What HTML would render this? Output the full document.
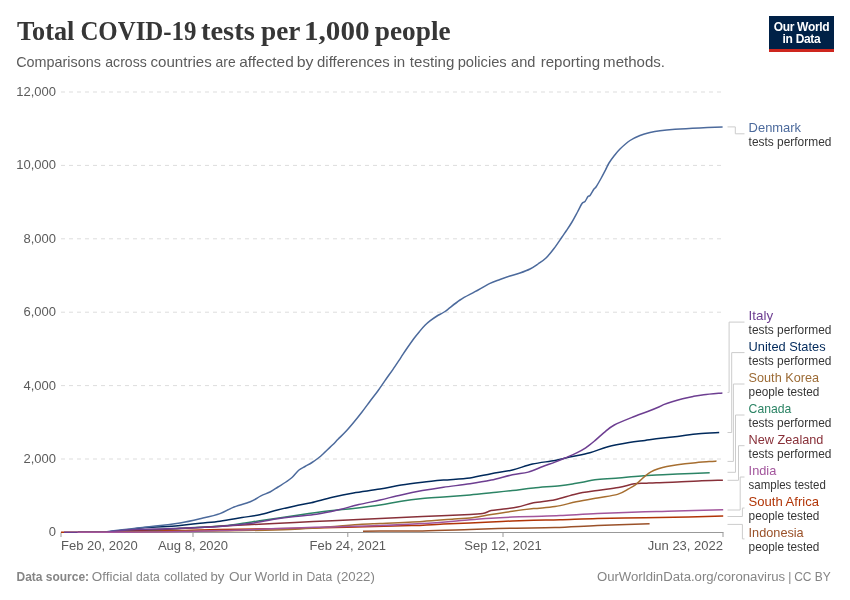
<!DOCTYPE html>
<html><head><meta charset="utf-8">
<style>
html,body{margin:0;padding:0;background:#fff;width:850px;height:600px;overflow:hidden}
svg{display:block;will-change:transform}
text{font-family:"Liberation Sans",sans-serif}
.ax{font-size:13px;fill:#5b5b5b}
.ln{font-size:13px}
.ls{font-size:12.2px;fill:#363636}
.title{font-family:"Liberation Serif",serif;font-size:27px;font-weight:bold;fill:#363636}
.sub{font-size:14.5px;fill:#5b5b5b}
.foot{font-size:12px;fill:#858585}
</style></head><body>
<svg width="850" height="600" viewBox="0 0 850 600">
<rect width="850" height="600" fill="#fff"/>
<text x="17" y="40.1" class="title" textLength="57.30" lengthAdjust="spacingAndGlyphs">Total</text>
<text x="80.4" y="40.1" class="title" textLength="116.10" lengthAdjust="spacingAndGlyphs">COVID-19</text>
<text x="200.9" y="40.1" class="title" textLength="53.90" lengthAdjust="spacingAndGlyphs">tests</text>
<text x="261" y="40.1" class="title" textLength="39.40" lengthAdjust="spacingAndGlyphs">per</text>
<text x="304" y="40.1" class="title" textLength="65.50" lengthAdjust="spacingAndGlyphs">1,000</text>
<text x="374.8" y="40.1" class="title" textLength="75.80" lengthAdjust="spacingAndGlyphs">people</text>
<text x="16.19" y="66.5" class="sub" textLength="84.69" lengthAdjust="spacingAndGlyphs">Comparisons</text>
<text x="105.27" y="66.5" class="sub" textLength="41.54" lengthAdjust="spacingAndGlyphs">across</text>
<text x="150.50" y="66.5" class="sub" textLength="61.31" lengthAdjust="spacingAndGlyphs">countries</text>
<text x="215.58" y="66.5" class="sub" textLength="20.07" lengthAdjust="spacingAndGlyphs">are</text>
<text x="239.27" y="66.5" class="sub" textLength="54.47" lengthAdjust="spacingAndGlyphs">affected</text>
<text x="296.73" y="66.5" class="sub" textLength="16.77" lengthAdjust="spacingAndGlyphs">by</text>
<text x="317.04" y="66.5" class="sub" textLength="72.77" lengthAdjust="spacingAndGlyphs">differences</text>
<text x="393.50" y="66.5" class="sub" textLength="11.77" lengthAdjust="spacingAndGlyphs">in</text>
<text x="409.89" y="66.5" class="sub" textLength="44.46" lengthAdjust="spacingAndGlyphs">testing</text>
<text x="457.65" y="66.5" class="sub" textLength="49.08" lengthAdjust="spacingAndGlyphs">policies</text>
<text x="511.12" y="66.5" class="sub" textLength="24.31" lengthAdjust="spacingAndGlyphs">and</text>
<text x="540.65" y="66.5" class="sub" textLength="59.47" lengthAdjust="spacingAndGlyphs">reporting</text>
<text x="603.11" y="66.5" class="sub" textLength="61.94" lengthAdjust="spacingAndGlyphs">methods.</text>

<g>
<rect x="769" y="16" width="65" height="36" fill="#002147"/>
<rect x="769" y="49" width="65" height="3" fill="#CE261E"/>
<text x="801.5" y="31" text-anchor="middle" font-size="12" font-weight="bold" fill="#fff" letter-spacing="-0.3">Our World</text>
<text x="801.5" y="43.2" text-anchor="middle" font-size="12" font-weight="bold" fill="#fff" letter-spacing="-0.3">in Data</text>
</g>
<line x1="61" y1="92" x2="723" y2="92" stroke="#ddd" stroke-width="1" stroke-dasharray="4,4"/>
<line x1="61" y1="165.4" x2="723" y2="165.4" stroke="#ddd" stroke-width="1" stroke-dasharray="4,4"/>
<line x1="61" y1="238.8" x2="723" y2="238.8" stroke="#ddd" stroke-width="1" stroke-dasharray="4,4"/>
<line x1="61" y1="312.2" x2="723" y2="312.2" stroke="#ddd" stroke-width="1" stroke-dasharray="4,4"/>
<line x1="61" y1="385.6" x2="723" y2="385.6" stroke="#ddd" stroke-width="1" stroke-dasharray="4,4"/>
<line x1="61" y1="459" x2="723" y2="459" stroke="#ddd" stroke-width="1" stroke-dasharray="4,4"/>

<text x="56" y="96" text-anchor="end" class="ax">12,000</text>
<text x="56" y="169.4" text-anchor="end" class="ax">10,000</text>
<text x="56" y="242.8" text-anchor="end" class="ax">8,000</text>
<text x="56" y="316.2" text-anchor="end" class="ax">6,000</text>
<text x="56" y="389.6" text-anchor="end" class="ax">4,000</text>
<text x="56" y="463" text-anchor="end" class="ax">2,000</text>
<text x="56" y="536.3" text-anchor="end" class="ax">0</text>

<line x1="61" y1="532.5" x2="723.5" y2="532.5" stroke="#999" stroke-width="1"/>
<line x1="61" y1="532.5" x2="61" y2="537" stroke="#999" stroke-width="1"/>
<text x="61" y="550" text-anchor="start" class="ax">Feb 20, 2020</text>
<line x1="193" y1="532.5" x2="193" y2="537" stroke="#999" stroke-width="1"/>
<text x="193" y="550" text-anchor="middle" class="ax">Aug 8, 2020</text>
<line x1="347.8" y1="532.5" x2="347.8" y2="537" stroke="#999" stroke-width="1"/>
<text x="347.8" y="550" text-anchor="middle" class="ax">Feb 24, 2021</text>
<line x1="503" y1="532.5" x2="503" y2="537" stroke="#999" stroke-width="1"/>
<text x="503" y="550" text-anchor="middle" class="ax">Sep 12, 2021</text>
<line x1="723" y1="532.5" x2="723" y2="537" stroke="#999" stroke-width="1"/>
<text x="723" y="550" text-anchor="end" class="ax">Jun 23, 2022</text>

<path d="M363.00,531.20 C365.83,531.18 370.10,531.15 380.00,531.10 C389.90,531.05 407.40,531.17 422.40,530.90 C437.40,530.63 455.00,529.95 470.00,529.50 C485.00,529.05 498.23,528.52 512.40,528.20 C526.57,527.88 540.83,528.03 555.00,527.60 C569.17,527.17 581.63,526.25 597.40,525.60 C613.17,524.95 640.90,524.02 649.60,523.70" fill="none" stroke="#9A5129" stroke-width="1.5" stroke-linejoin="round" stroke-linecap="butt"/>
<path d="M61.00,532.30 L104.00,532.30 C110.83,532.02 131.50,530.92 145.00,530.60 C158.50,530.28 172.50,530.60 185.00,530.40 C197.50,530.20 202.50,529.72 220.00,529.40 C237.50,529.08 258.03,529.13 290.00,528.50 C321.97,527.87 386.22,526.35 411.80,525.60 C437.38,524.85 433.80,524.45 443.50,524.00 C453.20,523.55 460.28,523.33 470.00,522.90 C479.72,522.47 491.22,521.83 501.80,521.40 C512.38,520.97 523.80,520.57 533.50,520.30 C543.20,520.03 549.35,520.12 560.00,519.80 C570.65,519.48 583.23,518.75 597.40,518.40 C611.57,518.05 629.85,517.95 645.00,517.70 C660.15,517.45 675.27,517.17 688.30,516.90 C701.33,516.63 717.38,516.23 723.20,516.10" fill="none" stroke="#B13507" stroke-width="1.5" stroke-linejoin="round" stroke-linecap="butt"/>
<path d="M78.00,532.30 L104.00,532.30 C108.33,531.85 123.17,530.42 130.00,529.60 C136.83,528.78 138.17,527.95 145.00,527.40 C151.83,526.85 165.17,526.60 171.00,526.30 C176.83,526.00 175.17,526.10 180.00,525.60 C184.83,525.10 193.33,524.03 200.00,523.30 C206.67,522.57 213.00,522.15 220.00,521.20 C227.00,520.25 235.38,518.68 242.00,517.60 C248.62,516.52 253.80,515.97 259.70,514.70 C265.60,513.43 271.52,511.47 277.40,510.00 C283.28,508.53 289.37,507.12 295.00,505.90 C300.63,504.68 304.97,504.15 311.20,502.70 C317.43,501.25 325.35,498.82 332.40,497.20 C339.45,495.58 345.57,494.35 353.50,493.00 C361.43,491.65 372.05,490.43 380.00,489.10 C387.95,487.77 394.13,486.15 401.20,485.00 C408.27,483.85 415.35,483.02 422.40,482.20 C429.45,481.38 435.57,480.82 443.50,480.10 C451.43,479.38 462.05,478.97 470.00,477.90 C477.95,476.83 484.13,475.02 491.20,473.70 C498.27,472.38 505.52,471.62 512.40,470.00 C519.28,468.38 525.40,465.58 532.50,464.00 C539.60,462.42 548.60,461.70 555.00,460.50 C561.40,459.30 565.08,458.10 570.90,456.80 C576.72,455.50 583.73,454.38 589.90,452.70 C596.07,451.02 601.37,448.40 607.90,446.70 C614.43,445.00 622.92,443.55 629.10,442.50 C635.28,441.45 640.48,441.02 645.00,440.40 C649.52,439.78 650.80,439.47 656.20,438.80 C661.60,438.13 670.35,437.25 677.40,436.40 C684.45,435.55 691.53,434.33 698.50,433.70 C705.47,433.07 715.75,432.78 719.20,432.60" fill="none" stroke="#00295B" stroke-width="1.5" stroke-linejoin="round" stroke-linecap="butt"/>
<path d="M78.00,532.30 L104.00,532.30 C105.30,532.10 107.47,531.67 111.80,531.10 C116.13,530.53 124.47,529.55 130.00,528.90 C135.53,528.25 139.50,527.82 145.00,527.20 C150.50,526.58 157.17,525.88 163.00,525.20 C168.83,524.52 173.83,524.17 180.00,523.10 C186.17,522.03 193.33,520.38 200.00,518.80 C206.67,517.22 214.57,515.47 220.00,513.60 C225.43,511.73 227.55,509.57 232.60,507.60 C237.65,505.63 245.58,503.75 250.30,501.80 C255.02,499.85 257.62,497.53 260.90,495.90 C264.18,494.27 267.15,493.48 270.00,492.00 C272.85,490.52 275.33,488.67 278.00,487.00 C280.67,485.33 283.67,483.58 286.00,482.00 C288.33,480.42 289.83,479.50 292.00,477.50 C294.17,475.50 296.83,471.83 299.00,470.00 C301.17,468.17 302.83,467.75 305.00,466.50 C307.17,465.25 309.67,464.00 312.00,462.50 C314.33,461.00 317.00,459.08 319.00,457.50 C321.00,455.92 321.72,455.12 324.00,453.00 C326.28,450.88 330.37,447.08 332.70,444.80 C335.03,442.52 335.78,441.55 338.00,439.30 C340.22,437.05 343.33,434.18 346.00,431.30 C348.67,428.42 351.33,425.22 354.00,422.00 C356.67,418.78 359.33,415.45 362.00,412.00 C364.67,408.55 367.33,404.85 370.00,401.30 C372.67,397.75 375.28,394.47 378.00,390.70 C380.72,386.93 383.80,382.27 386.30,378.70 C388.80,375.13 390.55,372.87 393.00,369.30 C395.45,365.73 398.55,360.97 401.00,357.30 C403.45,353.63 405.48,350.52 407.70,347.30 C409.92,344.08 412.30,340.67 414.30,338.00 C416.30,335.33 417.92,333.42 419.70,331.30 C421.48,329.18 423.23,327.07 425.00,325.30 C426.77,323.53 428.30,322.25 430.30,320.70 C432.30,319.15 434.55,317.53 437.00,316.00 C439.45,314.47 441.17,314.17 445.00,311.50 C448.83,308.83 455.00,303.30 460.00,300.00 C465.00,296.70 470.00,294.48 475.00,291.70 C480.00,288.92 485.83,285.33 490.00,283.30 C494.17,281.27 496.67,280.72 500.00,279.50 C503.33,278.28 506.67,277.08 510.00,276.00 C513.33,274.92 516.67,274.17 520.00,273.00 C523.33,271.83 527.00,270.50 530.00,269.00 C533.00,267.50 535.33,265.83 538.00,264.00 C540.67,262.17 543.33,260.58 546.00,258.00 C548.67,255.42 551.33,252.00 554.00,248.50 C556.67,245.00 559.92,240.00 562.00,237.00 C564.08,234.00 564.83,233.00 566.50,230.50 C568.17,228.00 570.17,225.08 572.00,222.00 C573.83,218.92 575.83,215.08 577.50,212.00 C579.17,208.92 580.75,205.25 582.00,203.50 C583.25,201.75 584.00,202.67 585.00,201.50 C586.00,200.33 587.17,197.50 588.00,196.50 C588.83,195.50 589.00,196.75 590.00,195.50 C591.00,194.25 593.00,190.42 594.00,189.00 C595.00,187.58 594.83,188.75 596.00,187.00 C597.17,185.25 599.42,181.33 601.00,178.50 C602.58,175.67 604.17,172.58 605.50,170.00 C606.83,167.42 607.58,165.33 609.00,163.00 C610.42,160.67 612.17,158.33 614.00,156.00 C615.83,153.67 617.33,151.58 620.00,149.00 C622.67,146.42 626.67,142.75 630.00,140.50 C633.33,138.25 636.67,136.83 640.00,135.50 C643.33,134.17 646.67,133.30 650.00,132.50 C653.33,131.70 655.83,131.23 660.00,130.70 C664.17,130.17 668.38,129.77 675.00,129.30 C681.62,128.83 691.77,128.28 699.70,127.90 C707.63,127.52 718.78,127.15 722.60,127.00" fill="none" stroke="#4C6A9C" stroke-width="1.5" stroke-linejoin="round" stroke-linecap="butt"/>
<path d="M78.00,532.30 L104.00,532.30 C119.17,531.52 175.00,528.68 195.00,527.60 C215.00,526.52 215.67,526.57 224.00,525.80 C232.33,525.03 239.05,523.83 245.00,523.00 C250.95,522.17 250.43,522.18 259.70,520.80 C268.97,519.42 288.88,516.37 300.60,514.70 C312.32,513.03 321.18,511.85 330.00,510.80 C338.82,509.75 345.17,509.37 353.50,508.40 C361.83,507.43 372.05,506.20 380.00,505.00 C387.95,503.80 394.13,502.27 401.20,501.20 C408.27,500.13 415.35,499.30 422.40,498.60 C429.45,497.90 435.57,497.62 443.50,497.00 C451.43,496.38 462.05,495.60 470.00,494.90 C477.95,494.20 484.13,493.52 491.20,492.80 C498.27,492.08 505.35,491.40 512.40,490.60 C519.45,489.80 525.57,488.82 533.50,488.00 C541.43,487.18 552.88,486.48 560.00,485.70 C567.12,484.92 569.97,484.32 576.20,483.30 C582.43,482.28 590.35,480.48 597.40,479.60 C604.45,478.72 612.23,478.50 618.50,478.00 C624.77,477.50 628.72,477.08 635.00,476.60 C641.28,476.12 649.13,475.53 656.20,475.10 C663.27,474.67 668.48,474.40 677.40,474.00 C686.32,473.60 704.32,472.92 709.70,472.70" fill="none" stroke="#2C8465" stroke-width="1.5" stroke-linejoin="round" stroke-linecap="butt"/>
<path d="M78.00,532.30 L104.00,532.30 C119.17,531.55 175.00,528.83 195.00,527.80 C215.00,526.77 215.18,526.62 224.00,526.10 C232.82,525.58 236.07,525.32 247.90,524.70 C259.73,524.08 280.92,523.07 295.00,522.40 C309.08,521.73 318.23,521.37 332.40,520.70 C346.57,520.03 365.00,519.08 380.00,518.40 C395.00,517.72 407.40,517.27 422.40,516.60 C437.40,515.93 459.95,514.90 470.00,514.40 C480.05,513.90 479.17,514.23 482.70,513.60 C486.23,512.97 488.02,511.33 491.20,510.60 C494.38,509.87 497.40,509.78 501.80,509.20 C506.20,508.62 512.32,508.17 517.60,507.10 C522.88,506.03 527.27,504.03 533.50,502.80 C539.73,501.57 547.88,501.18 555.00,499.70 C562.12,498.22 569.13,495.43 576.20,493.90 C583.27,492.37 590.35,491.57 597.40,490.50 C604.45,489.43 612.33,488.62 618.50,487.50 C624.67,486.38 629.98,484.50 634.40,483.80 C638.82,483.10 641.37,483.48 645.00,483.30 C648.63,483.12 650.80,482.92 656.20,482.70 C661.60,482.48 670.35,482.30 677.40,482.00 C684.45,481.70 690.92,481.20 698.50,480.90 C706.08,480.60 718.83,480.32 722.90,480.20" fill="none" stroke="#883039" stroke-width="1.5" stroke-linejoin="round" stroke-linecap="butt"/>
<path d="M78.00,532.30 L104.00,532.30 C120.00,532.08 169.00,531.47 200.00,531.00 C231.00,530.53 263.00,530.63 290.00,529.50 C317.00,528.37 347.00,525.20 362.00,524.20 C377.00,523.20 369.93,523.97 380.00,523.50 C390.07,523.03 410.05,522.17 422.40,521.40 C434.75,520.63 446.17,519.47 454.10,518.90 C462.03,518.33 463.82,518.73 470.00,518.00 C476.18,517.27 484.13,515.62 491.20,514.50 C498.27,513.38 505.35,512.28 512.40,511.30 C519.45,510.32 526.40,509.38 533.50,508.60 C540.60,507.82 547.88,507.73 555.00,506.60 C562.12,505.47 569.13,503.25 576.20,501.80 C583.27,500.35 590.52,499.13 597.40,497.90 C604.28,496.67 612.22,495.95 617.50,494.40 C622.78,492.85 626.18,490.13 629.10,488.60 C632.02,487.07 633.13,486.57 635.00,485.20 C636.87,483.83 638.53,482.00 640.30,480.40 C642.07,478.80 643.83,477.02 645.60,475.60 C647.37,474.18 648.78,473.03 650.90,471.90 C653.02,470.77 655.65,469.72 658.30,468.80 C660.95,467.88 663.62,467.08 666.80,466.40 C669.98,465.72 673.00,465.28 677.40,464.70 C681.80,464.12 687.92,463.42 693.20,462.90 C698.48,462.38 705.22,461.90 709.10,461.60 C712.98,461.30 715.27,461.18 716.50,461.10" fill="none" stroke="#A66E30" stroke-width="1.5" stroke-linejoin="round" stroke-linecap="butt"/>
<path d="M64.00,532.30 L104.00,532.30 C108.33,531.87 123.17,530.20 130.00,529.70 C136.83,529.20 139.50,529.43 145.00,529.30 C150.50,529.17 157.17,529.08 163.00,528.90 C168.83,528.72 173.83,528.43 180.00,528.20 C186.17,527.97 193.33,527.80 200.00,527.50 C206.67,527.20 211.03,527.17 220.00,526.40 C228.97,525.63 244.23,524.17 253.80,522.90 C263.37,521.63 270.53,519.87 277.40,518.80 C284.27,517.73 288.48,517.27 295.00,516.50 C301.52,515.73 309.40,515.28 316.50,514.20 C323.60,513.12 330.55,511.60 337.60,510.00 C344.65,508.40 351.73,506.27 358.80,504.60 C365.87,502.93 372.93,501.62 380.00,500.00 C387.07,498.38 394.13,496.47 401.20,494.90 C408.27,493.33 415.35,491.88 422.40,490.60 C429.45,489.32 435.57,488.33 443.50,487.20 C451.43,486.07 462.05,484.98 470.00,483.80 C477.95,482.62 484.13,481.60 491.20,480.10 C498.27,478.60 506.23,476.13 512.40,474.80 C518.57,473.47 523.13,473.48 528.20,472.10 C533.27,470.72 538.33,468.17 542.80,466.50 C547.27,464.83 551.20,463.55 555.00,462.10 C558.80,460.65 562.07,459.30 565.60,457.80 C569.13,456.30 572.85,454.77 576.20,453.10 C579.55,451.43 582.53,449.92 585.70,447.80 C588.87,445.68 592.20,442.88 595.20,440.40 C598.20,437.92 600.52,435.47 603.70,432.90 C606.88,430.33 609.08,427.78 614.30,425.00 C619.52,422.22 629.43,418.45 635.00,416.20 C640.57,413.95 643.63,413.08 647.70,411.50 C651.77,409.92 656.75,407.85 659.40,406.70 C662.05,405.55 661.48,405.43 663.60,404.60 C665.72,403.77 668.93,402.67 672.10,401.70 C675.27,400.73 679.08,399.68 682.60,398.80 C686.12,397.92 689.67,397.08 693.20,396.40 C696.73,395.72 698.93,395.28 703.80,394.70 C708.67,394.12 719.30,393.20 722.40,392.90" fill="none" stroke="#6D3E91" stroke-width="1.5" stroke-linejoin="round" stroke-linecap="butt"/>
<path d="M77.50,532.30 L104.00,532.30 C110.83,532.27 131.50,532.23 145.00,532.10 C158.50,531.97 172.50,531.75 185.00,531.50 C197.50,531.25 210.50,530.85 220.00,530.60 C229.50,530.35 229.50,530.45 242.00,530.00 C254.50,529.55 279.93,528.42 295.00,527.90 C310.07,527.38 318.23,527.28 332.40,526.90 C346.57,526.52 365.00,526.17 380.00,525.60 C395.00,525.03 407.40,524.47 422.40,523.50 C437.40,522.53 458.53,520.68 470.00,519.80 C481.47,518.92 484.13,518.65 491.20,518.20 C498.27,517.75 505.35,517.40 512.40,517.10 C519.45,516.80 525.57,516.65 533.50,516.40 C541.43,516.15 549.35,516.08 560.00,515.60 C570.65,515.12 583.23,514.15 597.40,513.50 C611.57,512.85 633.28,512.08 645.00,511.70 C656.72,511.32 654.67,511.53 667.70,511.20 C680.73,510.87 713.95,509.95 723.20,509.70" fill="none" stroke="#A2559C" stroke-width="1.5" stroke-linejoin="round" stroke-linecap="butt"/>

<path d="M727.5,126.9 H735.3 V133.8 H744.5" fill="none" stroke="#ccc" stroke-width="1"/>
<text x="748.6" y="132" class="ln" fill="#4C6A9C" textLength="52.5" lengthAdjust="spacingAndGlyphs">Denmark</text>
<text x="748.6" y="145.7" class="ls" textLength="82.8" lengthAdjust="spacingAndGlyphs">tests performed</text>
<path d="M727.5,392.4 H729.1 V322.1 H744.5" fill="none" stroke="#ccc" stroke-width="1"/>
<text x="748.6" y="320.3" class="ln" fill="#6D3E91" textLength="24.5" lengthAdjust="spacingAndGlyphs">Italy</text>
<text x="748.6" y="334.0" class="ls" textLength="82.8" lengthAdjust="spacingAndGlyphs">tests performed</text>
<path d="M727.5,432.5 H731.7 V352.6 H744.5" fill="none" stroke="#ccc" stroke-width="1"/>
<text x="748.6" y="350.8" class="ln" fill="#00295B" textLength="77.0" lengthAdjust="spacingAndGlyphs">United States</text>
<text x="748.6" y="364.5" class="ls" textLength="82.8" lengthAdjust="spacingAndGlyphs">tests performed</text>
<path d="M727.5,461.4 H733.4 V384.0 H744.5" fill="none" stroke="#ccc" stroke-width="1"/>
<text x="748.6" y="382.2" class="ln" fill="#9C6B35" textLength="70.4" lengthAdjust="spacingAndGlyphs">South Korea</text>
<text x="748.6" y="395.9" class="ls" textLength="70.8" lengthAdjust="spacingAndGlyphs">people tested</text>
<path d="M727.5,472.3 H735.5 V415.0 H744.5" fill="none" stroke="#ccc" stroke-width="1"/>
<text x="748.6" y="413.2" class="ln" fill="#2C8465" textLength="42.7" lengthAdjust="spacingAndGlyphs">Canada</text>
<text x="748.6" y="426.9" class="ls" textLength="82.8" lengthAdjust="spacingAndGlyphs">tests performed</text>
<path d="M727.5,480.3 H738.5 V445.7 H744.5" fill="none" stroke="#ccc" stroke-width="1"/>
<text x="748.6" y="443.9" class="ln" fill="#883039" textLength="74.8" lengthAdjust="spacingAndGlyphs">New Zealand</text>
<text x="748.6" y="457.59999999999997" class="ls" textLength="82.8" lengthAdjust="spacingAndGlyphs">tests performed</text>
<path d="M727.5,510 H740.2 V477.0 H744.5" fill="none" stroke="#ccc" stroke-width="1"/>
<text x="748.6" y="475.2" class="ln" fill="#A2559C" textLength="27.7" lengthAdjust="spacingAndGlyphs">India</text>
<text x="748.6" y="488.9" class="ls" textLength="77.2" lengthAdjust="spacingAndGlyphs">samples tested</text>
<path d="M727.5,516.5 H742.4 V508.0 H744.5" fill="none" stroke="#ccc" stroke-width="1"/>
<text x="748.6" y="506.2" class="ln" fill="#B13507" textLength="70.4" lengthAdjust="spacingAndGlyphs">South Africa</text>
<text x="748.6" y="519.9" class="ls" textLength="70.8" lengthAdjust="spacingAndGlyphs">people tested</text>
<path d="M727.5,524.4 H742.4 V538.9 H744.5" fill="none" stroke="#ccc" stroke-width="1"/>
<text x="748.6" y="537.1" class="ln" fill="#9A5129" textLength="55.1" lengthAdjust="spacingAndGlyphs">Indonesia</text>
<text x="748.6" y="550.8000000000001" class="ls" textLength="70.8" lengthAdjust="spacingAndGlyphs">people tested</text>

<text x="16.50" y="580.5" class="foot" font-weight="bold" textLength="72.62" lengthAdjust="spacingAndGlyphs">Data source:</text>
<text x="91.81" y="580.5" class="foot" textLength="40.77" lengthAdjust="spacingAndGlyphs">Official</text>
<text x="136.12" y="580.5" class="foot" textLength="23.68" lengthAdjust="spacingAndGlyphs">data</text>
<text x="164.04" y="580.5" class="foot" textLength="43.54" lengthAdjust="spacingAndGlyphs">collated</text>
<text x="210.42" y="580.5" class="foot" textLength="13.92" lengthAdjust="spacingAndGlyphs">by</text>
<text x="229.04" y="580.5" class="foot" textLength="22.61" lengthAdjust="spacingAndGlyphs">Our</text>
<text x="254.50" y="580.5" class="foot" textLength="34.85" lengthAdjust="spacingAndGlyphs">World</text>
<text x="292.19" y="580.5" class="foot" textLength="10.77" lengthAdjust="spacingAndGlyphs">in</text>
<text x="306.50" y="580.5" class="foot" textLength="25.76" lengthAdjust="spacingAndGlyphs">Data</text>
<text x="336.50" y="580.5" class="foot" textLength="38.31" lengthAdjust="spacingAndGlyphs">(2022)</text>
<text x="596.96" y="580.5" class="foot" textLength="188.23" lengthAdjust="spacingAndGlyphs">OurWorldinData.org/coronavirus</text>
<text x="789.85" y="580.5" class="foot" text-anchor="middle">|</text>
<text x="794.19" y="580.5" class="foot" textLength="36.69" lengthAdjust="spacingAndGlyphs">CC BY</text>

</svg>
</body></html>
